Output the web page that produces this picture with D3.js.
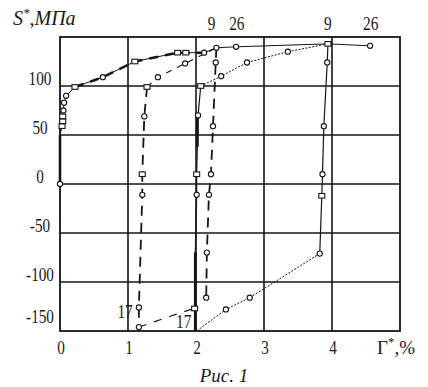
<!DOCTYPE html>
<html><head><meta charset="utf-8">
<script src="https://cdn.jsdelivr.net/npm/d3@7"></script>
<style>
body{margin:0;background:#fff}
text{font-family:"Liberation Serif","Times New Roman",serif;fill:#1a1a1a}
</style>
</head><body><div id="chart"></div>
<script>
// ticks / grid
const xTicks = [0, 1, 2, 3, 4];
const yTicks = [-150, -100, -50, 0, 50, 100];
const xGrid = [1, 2, 3, 4];
const yGrid = [-100, -50, 0, 50, 100];

// curves (Г*, %  /  S*, MPa); marks: c circle, s square, - none
const mainX = [0, 0, 0.03, 0.04, 0.04, 0.05, 0.06, 0.09, 0.22, 0.63, 1.10, 1.73, 1.85, 2.12];
const mainY = [0, 50, 59, 64, 69, 75, 83, 90, 99, 109, 125, 134, 134, 134];
const mainM = ["c", "-", "s", "s", "s", "c", "c", "c", "s", "c", "s", "s", "s", "c"];

const topX = [2.12, 2.30, 2.59, 3.94, 4.56];
const topY = [134, 139, 140, 143, 141];
const topM = ["-", "c", "c", "s", "c"];

const loopX = [3.94, 3.93, 3.88, 3.86, 3.85, 3.82];
const loopY = [143, 124, 59, 10, -12, -71];
const loopM = ["-", "c", "c", "c", "s", "c"];

const loopDownX = [3.82, 2.79, 2.44, 2.01];
const loopDownY = [-71, -116, -128, -150];
const loopDownM = ["-", "c", "c", "-"];

const vert2X = [2.0, 1.98, 1.99, 2.01, 2.01, 2.03, 2.07];
const vert2Y = [-150, -127, -70, -11, 10, 70, 100];
const vert2M = ["-", "s", "-", "c", "s", "c", "s"];

const reloadX = [2.07, 2.37, 2.75, 3.35, 3.94];
const reloadY = [100, 110, 124, 135, 143];
const reloadM = ["-", "c", "c", "c", "-"];

const dash1X = [1.28, 1.24, 1.21, 1.21, 1.16, 1.16];
const dash1Y = [99, 69, 10, -11, -126, -146];
const dash1M = ["s", "c", "s", "c", "c", "c"];

const dash1UpX = [1.28, 1.44, 1.84, 2.30];
const dash1UpY = [99, 109, 123, 139];
const dash1UpM = ["-", "c", "c", "-"];

const dash2X = [2.30, 2.29, 2.25, 2.22, 2.19, 2.16, 2.15];
const dash2Y = [139, 124, 59, 10, -11, -70, -116];
const dash2M = ["-", "c", "c", "c", "c", "c", "c"];

const c17X = [1.16, 1.62, 1.97];
const c17Y = [-146, -135, -127];

// thick pieces drawn over the thin lines
const thickAX = [0, 0];
const thickAY = [0, 50];
const thickBX = [1.99, 1.99];
const thickBY = [-150, -70];
const thickCX = [2.02, 2.02];
const thickCY = [38, 68];

const topLabels = ["9", "26", "9", "26"];
const topLabelX = [2.23, 2.60, 3.94, 4.57];

const width = 428, height = 387;
const svg = d3.select("#chart").append("svg")
  .attr("width", width).attr("height", height);

const x = d3.scaleLinear().domain([0, 5]).range([60, 400]);
const y = d3.scaleLinear().domain([-150, 150]).range([331, 37]);

const ink = "#151515";

// grid + frame
svg.append("g").selectAll("line").data(xGrid).join("line")
  .attr("x1", d => x(d)).attr("x2", d => x(d))
  .attr("y1", y(150)).attr("y2", y(-150))
  .attr("stroke", ink).attr("stroke-width", 1.6);
svg.append("g").selectAll("line").data(yGrid).join("line")
  .attr("x1", x(0)).attr("x2", x(5))
  .attr("y1", d => y(d)).attr("y2", d => y(d))
  .attr("stroke", ink).attr("stroke-width", 1.6);
svg.append("rect")
  .attr("x", x(0)).attr("y", y(150))
  .attr("width", x(5) - x(0)).attr("height", y(-150) - y(150))
  .attr("fill", "none").attr("stroke", ink).attr("stroke-width", 1.8);

// narrow the serif digits like the scan
function squeeze(sel, k) {
  sel.each(function () {
    const len = this.getComputedTextLength();
    d3.select(this).attr("textLength", len * k).attr("lengthAdjust", "spacingAndGlyphs");
  });
}

svg.append("g").selectAll("text").data(yTicks).join("text")
  .attr("x", 40)
  .attr("y", d => d === -150 ? y(d) - 8 : y(d) - 1)
  .attr("text-anchor", "middle")
  .attr("font-size", 19)
  .text(d => d)
  .call(squeeze, 0.8);

svg.append("g").selectAll("text").data(xTicks).join("text")
  .attr("x", d => x(d) + 1)
  .attr("y", 354)
  .attr("text-anchor", "middle")
  .attr("font-size", 19)
  .text(d => d)
  .call(squeeze, 0.8);

// curves
const line = d3.line().x(d => x(d[0])).y(d => y(d[1]));
const zip = (a, b) => a.map((v, i) => [v, b[i]]);

function curve(xs, ys, dash, w) {
  svg.append("path")
    .datum(zip(xs, ys))
    .attr("d", line)
    .attr("fill", "none")
    .attr("stroke", ink)
    .attr("stroke-width", w || 1)
    .attr("stroke-dasharray", dash || null);
}

function marks(xs, ys, ms) {
  const pts = zip(xs, ys).map((p, i) => ({ p, m: ms[i] }));
  svg.append("g").selectAll("circle").data(pts.filter(d => d.m === "c")).join("circle")
    .attr("cx", d => x(d.p[0])).attr("cy", d => y(d.p[1])).attr("r", 2.6)
    .attr("fill", "#fff").attr("stroke", ink).attr("stroke-width", 1.1);
  svg.append("g").selectAll("rect").data(pts.filter(d => d.m === "s")).join("rect")
    .attr("x", d => x(d.p[0]) - 3).attr("y", d => y(d.p[1]) - 2.3)
    .attr("width", 6).attr("height", 4.6)
    .attr("fill", "#fff").attr("stroke", ink).attr("stroke-width", 1.1);
}

curve(mainX, mainY);
curve(mainX.slice(8), mainY.slice(8), "9,7", 2.6);
curve(topX, topY);
curve(loopX, loopY, null, 1.2);
curve(loopDownX, loopDownY, "2,1.5");
curve(vert2X, vert2Y, null, 1.2);
curve(reloadX, reloadY, "2,1.5");
curve(dash1X, dash1Y, "10,7", 1.8);
curve(dash1UpX, dash1UpY, "6,6", 1.1);
curve(dash2X, dash2Y, "10,7", 1.8);
curve(c17X, c17Y, "8,8", 1.1);
curve(thickAX, thickAY, null, 2.6);
curve(thickBX, thickBY, null, 2.8);
curve(thickCX, thickCY, null, 2.8);

marks(mainX, mainY, mainM);
marks(topX, topY, topM);
marks(loopX, loopY, loopM);
marks(loopDownX, loopDownY, loopDownM);
marks(vert2X, vert2Y, vert2M);
marks(reloadX, reloadY, reloadM);
marks(dash1X, dash1Y, dash1M);
marks(dash1UpX, dash1UpY, dash1UpM);
marks(dash2X, dash2Y, dash2M);

// curve numbers
svg.append("g").selectAll("text").data(topLabels).join("text")
  .attr("x", (d, i) => x(topLabelX[i]))
  .attr("y", 30)
  .attr("text-anchor", "middle")
  .attr("font-size", 18)
  .text(d => d)
  .call(squeeze, 0.85);

svg.append("text").attr("x", x(1.07)).attr("y", y(-137))
  .attr("text-anchor", "end").attr("font-size", 18).text("17").call(squeeze, 0.85);
svg.append("text").attr("x", x(1.82)).attr("y", y(-147))
  .attr("text-anchor", "middle").attr("font-size", 18)
  .attr("stroke", "#fff").attr("stroke-width", 3).attr("paint-order", "stroke")
  .text("17").call(squeeze, 0.85);

// axis titles
const yt = svg.append("text").attr("x", 13).attr("y", 25)
  .attr("font-size", 20).attr("font-style", "italic");
yt.append("tspan").text("S");
yt.append("tspan").attr("dy", -8).attr("font-size", 13).text("*");
yt.append("tspan").attr("dy", 8).text(",МПа");

const xt = svg.append("text").attr("x", 377).attr("y", 354).attr("font-size", 19);
xt.append("tspan").text("Г");
xt.append("tspan").attr("dy", -8).attr("font-size", 13).text("*");
xt.append("tspan").attr("dy", 8).text(",%");

svg.append("text").attr("x", 224).attr("y", 382)
  .attr("text-anchor", "middle").attr("font-size", 19).attr("font-style", "italic")
  .text("Рис. 1");
</script>
</body></html>
